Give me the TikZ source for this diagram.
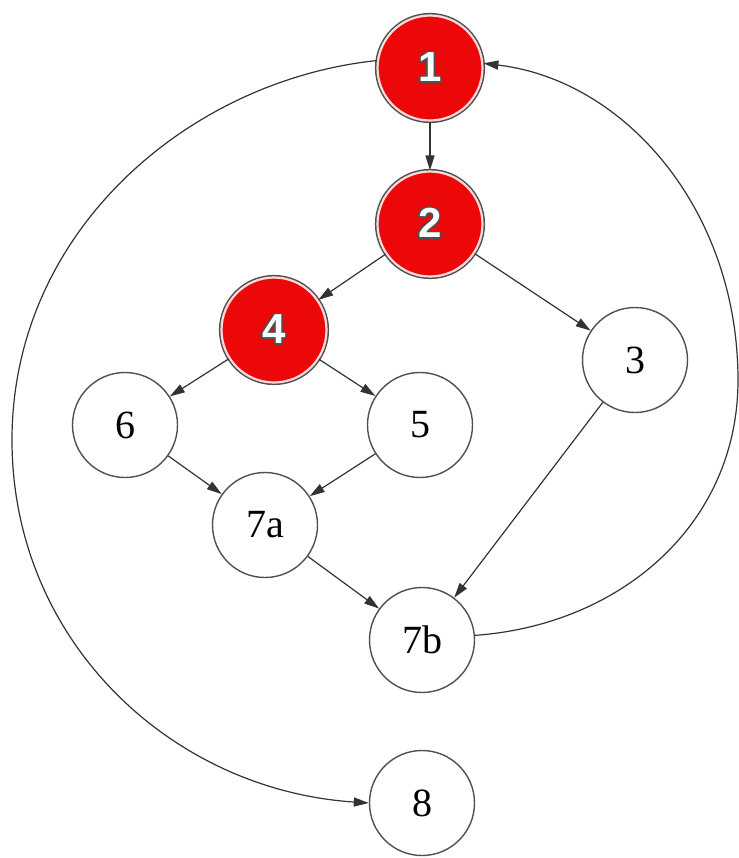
\documentclass[tikz,border=0pt]{standalone}
\usepackage{fontspec}
\setmainfont{Liberation Serif}
\newfontfamily\cifras{Liberation Sans}
\usepackage[copies]{contour}
\contourlength{0.7pt}
\usepackage{tikz}
\usetikzlibrary{arrows.meta}
\definecolor{RojoNodo}{RGB}{236,8,8}
\definecolor{GrisBorde}{RGB}{80,80,80}
\newcommand{\rotulo}[1]{\contour{GrisBorde}{\textcolor{white}{#1}}}

\begin{document}
\begin{tikzpicture}[x=0.5pt, y=-0.5pt, >={Triangle[length=7.5pt,width=4.5pt]},
    nodo/.style={circle, draw=GrisBorde, line width=0.7pt, minimum size=52.5pt,
        inner sep=0pt, font=\fontsize{20}{22}\selectfont},
    nodorojo/.style={nodo, fill=RojoNodo, draw=white!85!red, line width=1.1pt,
        preaction={draw=GrisBorde, line width=2.6pt},
        font=\cifras\bfseries\fontsize{21}{24}\selectfont},
    arista/.style={->, draw=black!80, line width=0.6pt}]
    \useasboundingbox (0,0) rectangle (739,858);

    % nodos
    \node[nodorojo] (n1)  at (430,68)  {\rotulo{1}};
    \node[nodorojo] (n2)  at (430,224) {\rotulo{2}};
    \node[nodorojo] (n4)  at (274,330) {\rotulo{4}};
    \node[nodo]     (n3)  at (635,360) {3};
    \node[nodo]     (n6)  at (125,425) {6};
    \node[nodo]     (n5)  at (420,425) {5};
    \node[nodo]     (n7a) at (265,525) {7a};
    \node[nodo]     (n7b) at (422,640) {7b};
    \node[nodo]     (n8)  at (422,803) {8};

    % aristas rectas
    \draw[arista] (n1) -- (n2);
    \draw[arista] (n2) -- (n4);
    \draw[arista] (n2) -- (n3);
    \draw[arista] (n4) -- (n6);
    \draw[arista] (n4) -- (n5);
    \draw[arista] (n6) -- (n7a);
    \draw[arista] (n5) -- (n7a);
    \draw[arista] (n7a) -- (n7b);
    \draw[arista] (n3) -- (n7b);

    % aristas curvas
    \draw[arista] (n7b.5) .. controls (620,625) and (738,525) .. (738,380)
        .. controls (738,210) and (625,80) .. (n1.5);
    \draw[arista] (n1.172) .. controls (190,80) and (12,230) .. (12,440)
        .. controls (12,641) and (171,790) .. (n8.180);
\end{tikzpicture}
\end{document}
